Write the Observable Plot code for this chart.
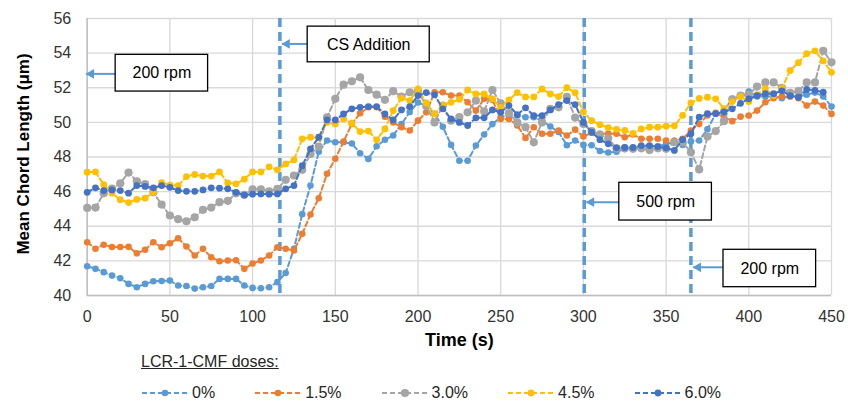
<!DOCTYPE html>
<html>
<head>
<meta charset="utf-8">
<script src="https://cdn.jsdelivr.net/npm/d3@7"></script>
<script src="https://cdn.jsdelivr.net/npm/@observablehq/plot@0.6"></script>
<style>
  body { margin: 0; background: #fff; font-family: "Liberation Sans", Arial, sans-serif; }
  #wrap { position: relative; width: 848px; height: 403px; overflow: hidden; }
  #legend-title { position: absolute; left: 141px; top: 352px; font-size: 16px; line-height: 20px; color: #262626; text-decoration: underline; }
  #legend { position: absolute; left: 141px; top: 383px; display: flex; gap: 39px; font-size: 16px; line-height: 20px; color: #262626; }
  #legend .item { display: flex; align-items: center; }
  #legend .item svg { margin-right: 3px; }
</style>
</head>
<body>
<div id="wrap">
  <div id="chart"></div>
  <div id="legend-title">LCR-1-CMF doses:</div>
  <div id="legend"></div>
</div>
<script>
// Sampling times (s)
const times = [0,5,10,15,20,25,30,35,40,45,50,55,60,65,70,75,80,85,90,95,100,105,110,115,
  120,125,130,135,140,145,150,155,160,165,170,175,180,185,190,195,200,205,210,215,220,225,
  230,235,240,245,250,255,260,265,270,275,280,285,290,295,300,305,310,315,320,325,330,335,
  340,345,350,355,360,365,370,375,380,385,390,395,400,405,410,415,420,425,430,435,440,445,450];

// Mean chord length (µm) for each LCR-1-CMF dose
const dose0 = [41.69,41.54,41.35,41.15,41.0,40.67,40.48,40.67,40.82,40.84,40.86,40.58,40.55,40.4,40.48,40.55,40.96,40.96,40.96,40.58,40.44,40.42,40.48,40.77,
  41.3,42.7,44.7,46.35,48.3,48.95,48.85,48.85,48.78,48.22,47.89,48.62,49.0,49.24,49.9,50.6,51.15,50.95,50.5,49.75,48.7,47.78,
  47.78,48.66,49.3,49.9,50.3,50.4,50.4,50.3,50.3,50.1,49.76,49.44,48.68,48.95,48.7,48.68,48.35,48.26,48.3,48.46,48.5,48.6,
  48.6,48.6,48.76,48.85,48.7,48.9,48.95,49.6,50.5,50.7,51.36,51.5,51.78,51.5,51.5,51.5,51.4,51.5,51.5,51.6,51.72,51.5,50.91];

const dose15 = [43.08,42.7,42.93,42.8,42.8,42.81,42.44,42.64,43.08,42.79,43.02,43.31,42.83,42.31,42.7,42.21,41.98,42.02,42.04,41.54,41.85,42.02,42.31,42.79,
  42.7,42.6,43.56,44.68,45.62,47.03,47.9,48.89,49.91,50.53,50.87,50.87,50.33,50.0,49.72,49.53,50.1,50.58,51.74,51.74,51.55,51.55,
  51.16,50.68,51.36,51.3,50.2,50.2,49.82,49.1,49.72,49.34,49.34,49.53,49.24,49.58,49.18,49.4,49.34,49.35,49.35,49.14,49.3,49.05,
  49.05,49.05,48.95,48.95,49.05,49.53,49.9,50.4,50.55,50.3,50.07,50.33,50.39,50.68,51.16,51.4,51.5,51.5,51.4,50.97,51.2,50.97,50.49];

const dose30 = [45.06,45.08,45.9,46.18,46.48,47.1,46.6,46.43,45.96,45.25,44.62,44.41,44.29,44.52,44.95,45.08,45.39,45.47,45.9,45.82,46.13,46.13,46.02,46.16,
  46.68,46.93,47.26,48.18,48.6,50.29,51.36,52.18,52.37,52.6,51.87,51.6,51.3,51.8,51.49,51.74,51.8,50.95,50.0,50.97,50.1,50.3,
  50.58,51.26,50.64,51.87,51.1,50.53,50.0,49.72,48.85,50.0,50.78,50.87,51.47,50.28,49.9,49.5,49.3,49.08,48.5,48.5,48.47,48.5,
  48.4,48.5,48.47,48.85,48.85,48.27,47.28,49.18,49.5,50.07,51.33,51.55,51.6,52.07,52.31,52.31,51.99,51.7,51.8,52.31,52.31,54.13,53.47];

const dose45 = [47.12,47.14,46.4,45.91,45.53,45.37,45.55,45.62,45.96,46.52,46.38,46.35,46.87,46.99,46.9,46.9,47.14,46.5,46.45,46.72,47.14,47.14,47.43,47.26,
  47.6,47.83,49.05,49.14,49.1,50.0,49.91,50.2,49.95,49.47,49.5,48.99,49.62,50.68,51.4,51.26,51.93,51.12,50.49,51.0,51.16,51.33,
  51.87,51.64,51.64,51.36,50.87,51.3,51.72,51.47,51.47,51.93,51.64,51.49,52.01,51.71,50.6,50.1,49.87,49.7,49.6,49.53,49.37,49.62,
  49.72,49.72,49.78,49.8,50.4,51.13,51.38,51.45,51.36,50.8,51.2,51.5,51.2,51.6,51.96,51.55,51.96,53.0,53.45,53.97,54.13,53.55,52.89];

const dose60 = [45.96,46.22,46.06,46.1,46.06,45.91,46.35,46.3,46.22,46.35,46.25,46.06,46.02,46.02,46.1,46.22,46.2,46.16,45.96,45.8,45.85,45.87,45.85,45.87,
  46.16,46.35,47.5,48.47,49.14,50.14,50.14,50.49,50.78,50.87,50.91,50.91,50.49,50.14,50.72,50.91,51.55,51.72,51.59,50.78,50.2,50.0,
  49.82,50.26,50.26,50.72,50.58,50.97,50.45,50.84,50.39,50.39,50.72,51.03,51.26,51.03,50.0,49.43,49.0,48.76,48.53,48.55,48.55,48.66,
  48.66,48.6,48.53,48.38,49.0,49.35,50.3,50.5,50.5,50.6,50.78,51.1,51.36,51.55,51.66,51.66,51.82,51.55,51.45,51.9,51.85,51.74,null];

const doseNames = ["0%", "1.5%", "3.0%", "4.5%", "6.0%"];
const doseValues = [dose0, dose15, dose30, dose45, dose60];

// Axis ticks
const xTicks = [0, 50, 100, 150, 200, 250, 300, 350, 400, 450];
const yTicks = [40, 42, 44, 46, 48, 50, 52, 54, 56];

// Process events: stirring-rate changes and CS addition (time, s)
const eventTimes = [116.5, 300.5, 365];

// Annotation callouts (data units): label, box extent, arrow start/end and height
const noteText   = ["200 rpm", "CS Addition", "500 rpm", "200 rpm"];
const noteLeft   = [17.2, 133.3, 321.7, 384.7];
const noteRight  = [73.1, 207.1, 377.7, 440.7];
const noteBottom = [51.78, 53.47, 44.33, 40.48];
const noteTop    = [53.90, 55.53, 46.51, 42.64];
const arrowY     = [52.80, 54.53, 45.39, 41.63];
const arrowTo    = [-0.6, 117.8, 301.8, 366.4];

// Styling
const colors = ["#5B9BD5", "#ED7D31", "#A5A5A5", "#FFC000", "#4472C4"];
const radii = [3.3, 3.3, 4.1, 3.4, 3.4];
const eventColor = "#5B9BD5";

const rows = doseNames.map((name, k) =>
  times.map((t, i) => ({time: t, value: doseValues[k][i], dose: name}))
);

const notes = noteText.map((text, i) => ({
  text,
  x1: noteLeft[i], x2: noteRight[i], y1: noteBottom[i], y2: noteTop[i],
  cx: (noteLeft[i] + noteRight[i]) / 2, cy: (noteBottom[i] + noteTop[i]) / 2,
  ay: arrowY[i], ax: arrowTo[i]
}));

const seriesMarks = rows.flatMap((data, k) => [
  Plot.line(data, {x: "time", y: "value", stroke: colors[k], strokeWidth: 2, strokeDasharray: "5,3"}),
  Plot.dot(data, {x: "time", y: "value", r: radii[k], fill: colors[k], stroke: "none"})
]);

const chart = Plot.plot({
  width: 848,
  height: 350,
  marginTop: 18,
  marginRight: 17,
  marginBottom: 55,
  marginLeft: 86.7,
  style: {fontFamily: "'Liberation Sans', Arial, sans-serif", fontSize: "16px", color: "#333", background: "#fff"},
  x: {domain: [0, 450], label: null},
  y: {domain: [40, 56], label: null},
  marks: [
    Plot.gridX(xTicks, {stroke: "#d9d9d9", strokeOpacity: 1, strokeWidth: 1.3}),
    Plot.gridY(yTicks, {stroke: "#d9d9d9", strokeOpacity: 1, strokeWidth: 1.3}),
    Plot.ruleX([0], {stroke: "#bfbfbf", strokeWidth: 1.5}),
    Plot.ruleY([40], {stroke: "#bfbfbf", strokeWidth: 1.5}),
    Plot.axisX(xTicks, {tickSize: 0, tickPadding: 15, label: null, tickFormat: d => d}),
    Plot.axisY(yTicks, {tickSize: 0, tickPadding: 16, label: null, tickFormat: d => d}),
    Plot.ruleX(eventTimes, {stroke: eventColor, strokeWidth: 3.5, strokeDasharray: "9,5"}),
    ...seriesMarks,
    // callout arrows
    Plot.link(notes, {x1: "x1", x2: "ax", y1: "ay", y2: "ay", stroke: eventColor, strokeWidth: 2}),
    Plot.dot(notes, {x: "ax", y: "ay", symbol: "triangle", r: 3.6, rotate: -90, dx: 5, fill: eventColor, stroke: "none"}),
    // callout boxes
    Plot.rect(notes, {x1: "x1", x2: "x2", y1: "y1", y2: "y2", fill: "#fff", stroke: "#000", strokeWidth: 1.3}),
    Plot.text(notes, {x: "cx", y: "cy", text: "text", fontSize: 16, fill: "#000"}),
    // axis titles
    Plot.text(["Mean Chord Length (\u03bcm)"], {frameAnchor: "left", textAnchor: "middle", text: d => d, rotate: -90, dx: -64, dy: -3, fontWeight: "bold", fontSize: 17, fill: "#000"}),
    Plot.text(["Time (s)"], {frameAnchor: "bottom", textAnchor: "middle", text: d => d, dy: 50, fontWeight: "bold", fontSize: 18, fill: "#000"})
  ]
});
document.getElementById("chart").append(chart);

// Legend: dashed line swatch with a marker, followed by the dose name
const legend = d3.select("#legend");
doseNames.forEach((name, k) => {
  const item = legend.append("div").attr("class", "item");
  const svg = item.append("svg").attr("width", 48).attr("height", 12);
  svg.append("line").attr("x1", 1).attr("x2", 47).attr("y1", 6).attr("y2", 6)
    .attr("stroke", colors[k]).attr("stroke-width", 2).attr("stroke-dasharray", "5,3");
  svg.append("circle").attr("cx", 24).attr("cy", 6).attr("r", radii[k]).attr("fill", colors[k]);
  item.append("span").text(name);
});
</script>
</body>
</html>
